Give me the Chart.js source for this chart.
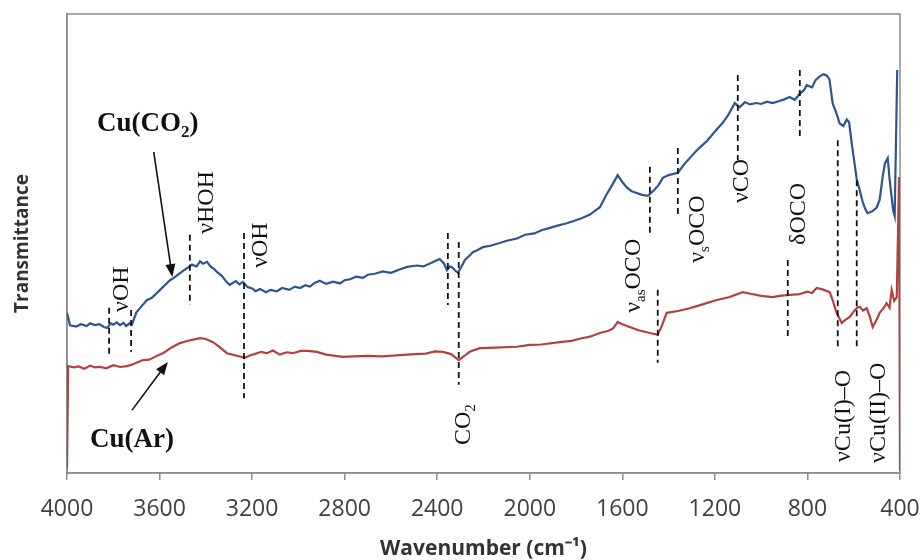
<!DOCTYPE html>
<html><head><meta charset="utf-8">
<script src="https://cdn.jsdelivr.net/npm/chart.js@4.4.0/dist/chart.umd.min.js"></script>
<style>html,body{margin:0;padding:0;background:#fff}#wrap{width:923px;height:560px}</style>
</head><body><div id="wrap"><canvas id="c" width="923" height="560"></canvas></div>
<script>
// ---- tick labels
const xTicks = [4000,3600,3200,2800,2400,2000,1600,1200,800,400];

// ---- Cu(CO2) spectrum (blue)
const blueWavenumber = [4000,3987,3960,3940,3915,3900,3880,3860,3840,3827,3810,3800,3785,3771,3755,3745,3730,3719,3700,3680,3654,3635,3620,3598,3575,3555,3535,3520,3500,3482,3460,3440,3425,3412,3395,3380,3365,3352,3330,3310,3296,3270,3255,3240,3220,3200,3185,3166,3140,3120,3093,3070,3040,3015,2993,2970,2950,2930,2907,2880,2850,2820,2800,2777,2750,2720,2700,2670,2635,2600,2560,2530,2488,2460,2420,2400,2389,2370,2358,2345,2337,2320,2311,2295,2280,2260,2246,2225,2203,2170,2130,2100,2056,2020,1980,1950,1913,1880,1840,1810,1771,1740,1697,1670,1641,1620,1600,1581,1560,1538,1515,1490,1468,1445,1425,1400,1360,1335,1309,1280,1235,1200,1166,1140,1114,1093,1070,1049,1020,1000,975,950,925,900,877,855,833,815,803,780,765,747,730,717,705,691,675,661,645,630,620,609,598,587,575,561,550,540,520,501,488,475,465,453,445,436,430,423,412,406,400];
const blueTransmittance = [34.9,32.2,31.9,32.4,32.0,32.6,32.2,32.4,31.8,31.6,32.6,32.3,32.8,32.2,32.7,32.0,32.6,32.4,35.0,36.2,37.7,38.1,38.8,39.9,41.0,42.0,42.6,43.2,44.0,44.6,45.4,45.0,46.1,45.6,46.0,45.0,44.5,43.8,42.9,41.6,41.0,41.8,41.1,41.6,40.5,40.2,39.6,40.1,39.4,39.9,39.6,40.3,39.9,40.6,40.3,40.9,40.6,41.4,41.9,41.2,41.7,41.3,42.0,42.2,42.8,42.5,43.2,43.4,43.9,43.6,44.4,44.9,45.2,45.0,45.9,46.4,46.6,45.6,44.2,45.0,44.9,44.0,43.6,45.0,46.4,47.4,48.1,48.6,49.2,49.5,50.1,50.6,51.1,51.9,52.2,52.9,53.4,53.9,54.4,54.9,55.6,56.3,57.9,60.5,63.0,64.9,63.4,62.2,61.4,61.0,60.6,60.4,61.4,62.6,64.3,64.9,65.4,67.1,68.6,70.2,72.3,74.4,76.3,78.2,80.6,79.7,80.8,80.3,80.6,80.4,80.9,80.6,81.0,81.4,81.9,81.3,82.6,83.4,84.5,84.0,85.6,86.4,86.9,86.6,85.8,80.5,78.4,76.2,75.6,77.0,76.4,72.0,68.0,64.0,61.8,59.0,57.5,56.6,57.0,57.8,59.5,64.5,67.5,68.6,64.0,60.0,57.3,56.0,87.8];

// ---- Cu(Ar) spectrum (red)
const redWavenumber = [4000,3995,3970,3950,3925,3900,3880,3857,3830,3800,3770,3741,3720,3700,3672,3645,3620,3600,3585,3550,3512,3485,3460,3425,3400,3369,3340,3309,3270,3231,3210,3190,3160,3136,3110,3080,3050,3024,2990,2960,2920,2880,2808,2760,2700,2640,2561,2500,2450,2410,2376,2340,2307,2280,2260,2216,2150,2056,2000,1950,1870,1820,1780,1740,1697,1660,1640,1620,1600,1568,1530,1481,1447,1430,1408,1360,1309,1250,1192,1140,1080,1040,1000,950,920,877,840,800,780,760,735,704,690,674,652,635,617,600,585,574,560,544,530,518,500,488,470,458,445,436,425,414,404,400];
const redTransmittance = [1.0,23.3,23.0,23.2,22.7,23.4,23.0,23.1,22.8,23.5,23.1,23.3,23.6,24.0,24.6,24.7,25.3,25.8,26.1,27.3,28.3,28.7,29.0,29.4,29.2,28.5,27.4,26.1,25.6,25.1,25.6,25.9,26.4,26.1,26.7,25.8,26.3,26.1,26.6,26.6,26.4,25.8,25.3,25.4,25.5,25.4,25.7,25.9,26.0,26.5,26.4,25.9,24.6,25.6,26.4,27.2,27.3,27.5,27.9,28.0,28.5,28.8,29.3,29.7,30.5,31.0,31.5,32.9,32.4,31.8,31.1,30.5,30.1,32.0,34.9,35.3,35.9,36.8,37.7,38.3,39.4,39.0,38.6,38.3,38.6,38.8,38.9,39.5,39.2,40.3,40.0,39.4,37.5,34.9,32.7,33.4,34.0,35.2,36.0,36.2,35.4,35.9,34.0,31.8,33.5,34.9,36.0,37.0,36.0,39.9,37.5,38.3,64.5,0.5];

// ---- band markers (dashed lines): wavenumber, top and bottom transmittance
const markWavenumber = [3818,3723,3469,3235,2354,2307,1481,1447,1360,1101,833,885,669,587];
const markTop =        [36.0,35.5,51.9,52.3,52.3,50.3,66.7,39.9,70.8,86.7,87.8,46.4,72.5,63.8];
const markBottom =     [25.1,26.4,36.6,16.3,36.6,19.2,51.9,24.0,55.8,68.2,73.2,29.6,27.5,27.5];

// ---- band labels (rotated): segments [text, isSubscript]
const bandLabels = [
  [['νOH',0]],
  [['νHOH',0]],
  [['νOH',0]],
  [['CO',0],['2',1]],
  [['ν',0],['as',1],['OCO',0]],
  [['ν',0],['s',1],['OCO',0]],
  [['νCO',0]],
  [['δOCO',0]],
  [['νCu(I)–O',0]],
  [['νCu(II)–O',0]]
];
const bandWavenumber = [3771,3404,3171,2294,1559,1283,1093,846,652,501];
const bandBase =       [35.1,52.1,44.7,6.1,34.9,45.8,58.8,49.7,2.4,2.2];

// ---- series labels and arrows
const seriesNames = [[['Cu(CO',0],['2',1],[')',0]], [['Cu(Ar)',0]]];
const seriesLabelAt = [[3870,74.5],[3901,5.7]];
const arrowFrom = [[3625,69.9],[3719,13.7]];
const arrowTo =   [[3545,42.7],[3564,24.2]];

const GRAY = '#8c8c8c';
const serif = '"Liberation Serif", "Times New Roman", serif';

function drawRich(ctx, segs, size, weight){
  let x = 0;
  for (const [t, sub] of segs){
    ctx.font = weight + ' ' + (sub ? Math.round(size*0.62) : size) + 'px ' + serif;
    ctx.fillText(t, x, sub ? size*0.22 : 0);
    x += ctx.measureText(t).width;
  }
}

const annot = {
  id: 'annot',
  beforeDatasetsDraw(chart){
    const {ctx, chartArea: a} = chart;
    ctx.save();
    ctx.strokeStyle = GRAY; ctx.lineWidth = 1.5;
    ctx.strokeRect(a.left, a.top, a.right - a.left, a.bottom - a.top);
    ctx.restore();
  },
  afterDatasetsDraw(chart){
    const {ctx, scales:{x, y}} = chart;
    ctx.save();
    ctx.strokeStyle = '#111'; ctx.lineWidth = 1.8; ctx.setLineDash([6,4]);
    for (let i = 0; i < markWavenumber.length; i++){
      const px = x.getPixelForValue(markWavenumber[i]);
      ctx.beginPath();
      ctx.moveTo(px, y.getPixelForValue(markTop[i]));
      ctx.lineTo(px, y.getPixelForValue(markBottom[i]));
      ctx.stroke();
    }
    ctx.setLineDash([]);
    ctx.fillStyle = '#111'; ctx.textBaseline = 'alphabetic'; ctx.textAlign = 'left';
    const fs = 24;
    for (let i = 0; i < bandLabels.length; i++){
      const px = x.getPixelForValue(bandWavenumber[i]);
      const py = y.getPixelForValue(bandBase[i]);
      ctx.save();
      ctx.translate(px, py);
      ctx.rotate(-Math.PI/2);
      ctx.translate(0, fs*0.33);
      drawRich(ctx, bandLabels[i], fs, 'normal');
      ctx.restore();
    }
    // series labels
    for (let i = 0; i < seriesNames.length; i++){
      ctx.save();
      ctx.translate(x.getPixelForValue(seriesLabelAt[i][0]), y.getPixelForValue(seriesLabelAt[i][1]));
      drawRich(ctx, seriesNames[i], 27, 'bold');
      ctx.restore();
      // arrows
      const x0 = x.getPixelForValue(arrowFrom[i][0]), y0 = y.getPixelForValue(arrowFrom[i][1]);
      const x1 = x.getPixelForValue(arrowTo[i][0]), y1 = y.getPixelForValue(arrowTo[i][1]);
      const ang = Math.atan2(y1 - y0, x1 - x0), L = 13, W = 5;
      ctx.strokeStyle = '#111'; ctx.lineWidth = 1.6;
      ctx.beginPath(); ctx.moveTo(x0, y0);
      ctx.lineTo(x1 - Math.cos(ang)*L*0.8, y1 - Math.sin(ang)*L*0.8); ctx.stroke();
      ctx.beginPath();
      ctx.moveTo(x1, y1);
      ctx.lineTo(x1 - Math.cos(ang)*L - Math.sin(ang)*W, y1 - Math.sin(ang)*L + Math.cos(ang)*W);
      ctx.lineTo(x1 - Math.cos(ang)*L + Math.sin(ang)*W, y1 - Math.sin(ang)*L - Math.cos(ang)*W);
      ctx.closePath(); ctx.fill();
    }
    ctx.restore();
  }
};

const toPts = (xs, ys) => xs.map((v, i) => ({x: v, y: ys[i]}));

new Chart(document.getElementById('c'), {
  type: 'line',
  data: {
    datasets: [
      {label: 'Cu(CO2)', data: toPts(blueWavenumber, blueTransmittance), borderColor: '#2e558e', borderWidth: 2.2, pointRadius: 0, tension: 0},
      {label: 'Cu(Ar)', data: toPts(redWavenumber, redTransmittance), borderColor: '#b3413f', borderWidth: 2.2, pointRadius: 0, tension: 0}
    ]
  },
  options: {
    responsive: false, animation: false, devicePixelRatio: 1,
    layout: {padding: {top: 14, right: 23, left: 0, bottom: 0}},
    plugins: {legend: {display: false}, tooltip: {enabled: false}},
    scales: {
      x: {
        type: 'linear', reverse: true, min: 400, max: 4000,
        afterBuildTicks: s => { s.ticks = xTicks.map(v => ({value: v})); },
        afterFit: s => { s.height = 87; s.paddingLeft = 0; s.paddingRight = 0; },
        ticks: {callback: v => String(v), font: {family: '"Open Sans"', size: 23}, color: '#404040', padding: 16, maxRotation: 0, autoSkip: false},
        grid: {display: true, drawOnChartArea: false, drawTicks: true, tickLength: 7, color: GRAY, lineWidth: 1.5},
        border: {color: GRAY, width: 1.5},
        title: {display: true, text: 'Wavenumber (cm⁻¹)', font: {family: '"Open Sans"', size: 21, weight: 'bold'}, color: '#333', padding: {top: 0, bottom: -2}}
      },
      y: {
        min: 0, max: 100,
        afterFit: s => { s.width = 67; s.paddingTop = 0; s.paddingBottom = 0; },
        ticks: {display: false},
        grid: {display: false},
        border: {color: GRAY, width: 1.5},
        title: {display: true, text: 'Transmittance', font: {family: '"Open Sans"', size: 19, weight: 'bold'}, color: '#333', padding: {top: 11, bottom: 0}}
      }
    }
  },
  plugins: [annot]
});
</script></body></html>
